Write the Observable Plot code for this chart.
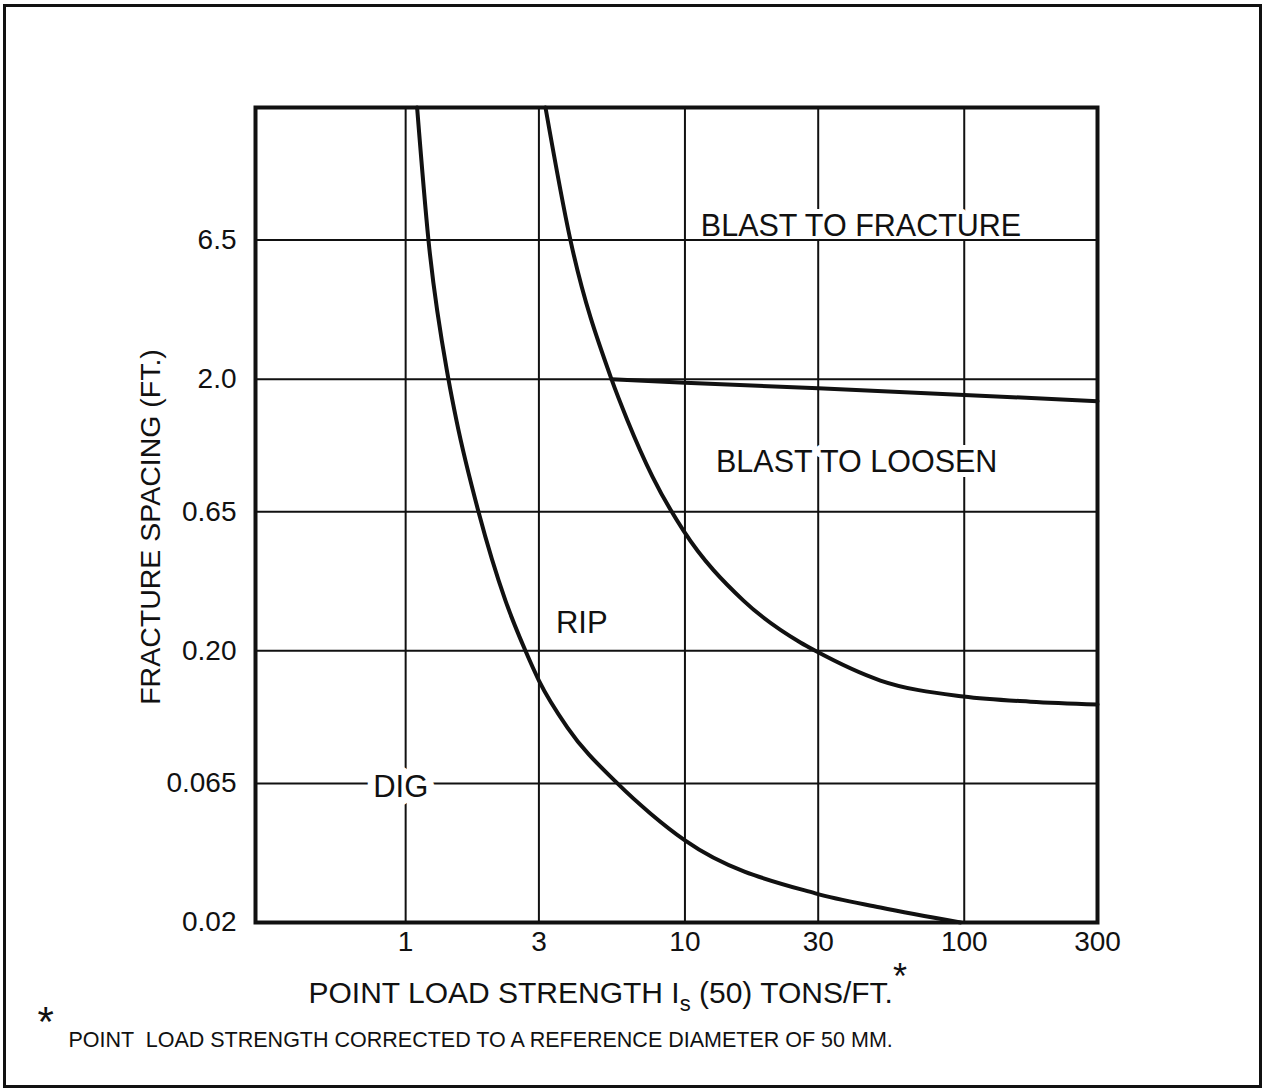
<!DOCTYPE html>
<html><head><meta charset="utf-8">
<script src="https://cdn.jsdelivr.net/npm/d3@7"></script>
<script src="https://cdn.jsdelivr.net/npm/@observablehq/plot@0.6"></script>
<style>
html,body{margin:0;padding:0;background:#fff;overflow:hidden;}
#wrap{position:relative;width:1268px;height:1089px;}
#chart{position:absolute;left:0;top:0;}
#border{position:absolute;left:3px;top:4px;width:1259px;height:1084px;border:3px solid #111;box-sizing:border-box;z-index:2;pointer-events:none;}
</style></head><body>
<div id="wrap"><div id="chart"></div><div id="border"></div></div>
<script>
// Axis ticks (log scales)
const xTicks = [1, 3, 10, 30, 100, 300];
const xTickLabels = ["1", "3", "10", "30", "100", "300"];
const yTicks = [0.02, 0.065, 0.2, 0.65, 2.0, 6.5];
const yTickLabels = ["0.02", "0.065", "0.20", "0.65", "2.0", "6.5"];

// Boundary DIG / RIP
const digRipX = [1.099, 1.207, 1.423, 1.52, 1.823, 2.277, 2.685, 3, 3.796, 5.733, 7.52, 10, 29.3, 50.1, 97];
const digRipY = [20, 6.5, 2.0, 1.41, 0.65, 0.306, 0.2, 0.1555, 0.1044, 0.065, 0.0504, 0.0401, 0.0256, 0.0227, 0.02];
// Boundary RIP / BLAST
const ripBlastX = [3.167, 3.89, 5.457, 6.226, 7.65, 9.88, 16.2, 25.9, 29.3, 50.1, 99.3, 172.6, 300];
const ripBlastY = [20, 6.5, 2.0, 1.41, 0.876, 0.554, 0.306, 0.2146, 0.2, 0.1555, 0.1358, 0.130, 0.127];
// Boundary BLAST TO FRACTURE / BLAST TO LOOSEN
const fractureLoosenX = [5.457, 10, 30, 100, 300];
const fractureLoosenY = [2.0, 1.94, 1.85, 1.75, 1.66];

// Region labels
const regionNames = ["BLAST TO FRACTURE", "BLAST TO LOOSEN", "RIP", "DIG"];
const regionX = [42.7, 41.2, 4.27, 0.96];
const regionY = [7.3, 0.99, 0.254, 0.063];

const xLabelText = "POINT LOAD STRENGTH Is (50) TONS/FT.*";
const yLabelText = "FRACTURE SPACING (FT.)";
const footnoteText = "POINT  LOAD STRENGTH CORRECTED TO A REFERENCE DIAMETER OF 50 MM.";

const toRows = (xs, ys) => xs.map((x, i) => ({x, y: ys[i]}));
const digRip = toRows(digRipX, digRipY);
const ripBlast = toRows(ripBlastX, ripBlastY);
const fractureLoosen = toRows(fractureLoosenX, fractureLoosenY);
const regions = regionNames.map((name, i) => ({name, x: regionX[i], y: regionY[i]}));

const ink = "#111";
const font = "'Liberation Sans', Arial, Helvetica, sans-serif";

const fig = Plot.plot({
  width: 1268, height: 1089,
  marginLeft: 255, marginRight: 171, marginTop: 107, marginBottom: 167,
  style: {fontFamily: font, background: "white", color: ink},
  x: {type: "log", domain: [0.29, 300]},
  y: {type: "log", domain: [0.02, 20]},
  marks: [
    Plot.gridX(xTicks.slice(0, -1), {stroke: ink, strokeOpacity: 1, strokeWidth: 2}),
    Plot.text(regions.slice(0, 2), {x: "x", y: "y", text: "name", fontSize: 30.5, fill: ink,
      stroke: "white", strokeWidth: 10, paintOrder: "stroke", lineAnchor: "middle"}),
    Plot.gridY(yTicks.slice(1), {stroke: ink, strokeOpacity: 1, strokeWidth: 2}),
    Plot.axisX(xTicks, {tickSize: 0, tickPadding: 9, fontSize: 28, fill: ink, label: null,
      tickFormat: d => xTickLabels[xTicks.indexOf(d)]}),
    Plot.axisY(yTicks, {tickSize: 0, tickPadding: 19, fontSize: 28, fill: ink, label: null,
      tickFormat: d => yTickLabels[yTicks.indexOf(d)]}),
    Plot.frame({stroke: ink, strokeWidth: 4}),
    Plot.line(digRip, {x: "x", y: "y", stroke: ink, strokeWidth: 4, curve: "monotone-x"}),
    Plot.line(ripBlast, {x: "x", y: "y", stroke: ink, strokeWidth: 4, curve: "monotone-x"}),
    Plot.line(fractureLoosen, {x: "x", y: "y", stroke: ink, strokeWidth: 4, curve: "linear"}),
    Plot.text(regions.slice(2, 3), {x: "x", y: "y", text: "name", fontSize: 31, fill: ink, lineAnchor: "middle"}),
    Plot.text(regions.slice(3), {x: "x", y: "y", text: "name", fontSize: 31, fill: ink,
      stroke: "white", strokeWidth: 16, paintOrder: "stroke", lineAnchor: "middle"}),
    Plot.text([yLabelText], {text: d => d, frameAnchor: "left", dx: -105, dy: 12, rotate: -90, textAnchor: "middle",
      fontSize: 28.5, fill: ink, lineAnchor: "middle"}),
    Plot.text([xLabelText], {text: d => d, frameAnchor: "bottom-left", dx: 53, dy: 71, textAnchor: "start", fontSize: 30, fill: ink, lineAnchor: "middle"}),
    Plot.text(["*"], {text: d => d, frameAnchor: "bottom-left", dx: -218, dy: 100, textAnchor: "start", fontSize: 42, fill: ink, lineAnchor: "middle"}),
    Plot.text([footnoteText], {text: d => d, frameAnchor: "bottom-left", dx: -187, dy: 118, textAnchor: "start", fontSize: 21.5, fill: ink, lineAnchor: "middle"})
  ]
});

// subscript "s" and superscript asterisk in the x-axis title
d3.select(fig).selectAll("text").filter(function() { return this.textContent === xLabelText; }).each(function() {
  const t = d3.select(this);
  t.text(null);
  t.append("tspan").text("POINT LOAD STRENGTH I");
  t.append("tspan").attr("font-size", 22).attr("dy", 8).text("s");
  t.append("tspan").attr("dy", -8).text(" (50) TONS/FT.");
  t.append("tspan").attr("dy", -14).attr("font-size", 36).text("*");
});

document.getElementById("chart").appendChild(fig);
</script>
</body></html>
